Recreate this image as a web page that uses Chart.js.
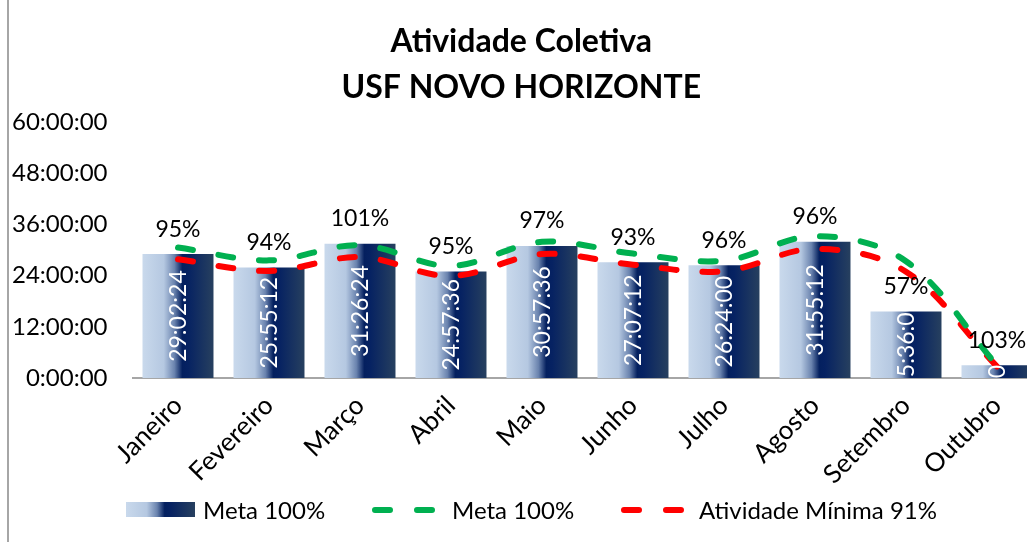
<!DOCTYPE html>
<html>
<head>
<meta charset="utf-8">
<script src="https://cdn.jsdelivr.net/npm/chart.js@4.4.1/dist/chart.umd.min.js"></script>
<style>
  html, body { margin: 0; padding: 0; background: #fff; overflow: hidden; }
  canvas { display: block; }
</style>
</head>
<body>
<canvas id="myChart" width="1070" height="542"></canvas>
<script>
// Chart data
const meses = ['Janeiro', 'Fevereiro', 'Março', 'Abril', 'Maio', 'Junho', 'Julho', 'Agosto', 'Setembro', 'Outubro'];
const horasRealizadas = ['29:02:24', '25:55:12', '31:26:24', '24:57:36', '30:57:36', '27:07:12', '26:24:00', '31:55:12', '15:36:00', '3:00:00'];
const percentuais = ['95%', '94%', '101%', '95%', '97%', '93%', '96%', '96%', '57%', '103%'];
// lines, in hours
const metaHoras = [30.57, 27.57, 31.13, 26.27, 31.92, 29.16, 27.5, 33.25, 27.37, 2.96];
const minimaHoras = [27.82, 25.09, 28.33, 23.91, 29.05, 26.54, 25.03, 30.26, 24.91, 2.69];
const yTickLabels = ['0:00:00', '12:00:00', '24:00:00', '36:00:00', '48:00:00', '60:00:00'];

const FONT = 'Lato, "Open Sans", sans-serif';

function toHours(s) {
    const p = s.split(':').map(Number);
    return p[0] + p[1] / 60 + p[2] / 3600;
}
const barHours = horasRealizadas.map(toHours);

function addStops(g) {
    g.addColorStop(0, '#c9d9ec');
    g.addColorStop(0.3, '#b5c8e1');
    g.addColorStop(0.45, '#6a83ae');
    g.addColorStop(0.56, '#04205f');
    g.addColorStop(0.64, '#062262');
    g.addColorStop(1, '#27405f');
    return g;
}

function barGradient(context) {
    const chart = context.chart;
    if (!chart.chartArea) return '#0a2463';
    const xScale = chart.scales.x;
    const cx = xScale.getPixelForValue(context.dataIndex);
    const half = xScale.width / meses.length * 0.78 / 2;
    return addStops(chart.ctx.createLinearGradient(cx - half, 0, cx + half, 0));
}

// frame line on the left
const framePlugin = {
    id: 'frame',
    beforeDraw(chart) {
        const ctx = chart.ctx;
        ctx.save();
        ctx.fillStyle = '#fff';
        ctx.fillRect(0, 0, chart.width, chart.height);
        ctx.strokeStyle = '#a6a6a6';
        ctx.lineWidth = 2;
        ctx.beginPath();
        ctx.moveTo(8, 0);
        ctx.lineTo(8, chart.height);
        ctx.stroke();
        ctx.restore();
    }
};

// labels inside the bars and percent above
const labelPlugin = {
    id: 'barLabels',
    afterDatasetsDraw(chart) {
        const ctx = chart.ctx;
        const meta = chart.getDatasetMeta(0);
        meta.data.forEach((bar, i) => {
            const w = bar.width;
            const top = bar.y;
            const base = bar.base;
            ctx.save();
            ctx.beginPath();
            ctx.rect(bar.x - w / 2, top, w, base - top);
            ctx.clip();
            ctx.translate(bar.x, (top + base) / 2);
            ctx.rotate(-Math.PI / 2);
            ctx.fillStyle = '#fff';
            ctx.font = '23px ' + FONT;
            ctx.textAlign = 'center';
            ctx.textBaseline = 'middle';
            ctx.fillText(horasRealizadas[i], 0, 1);
            ctx.restore();

            ctx.save();
            ctx.fillStyle = '#000';
            ctx.font = '23px ' + FONT;
            ctx.textAlign = 'center';
            ctx.textBaseline = 'middle';
            ctx.fillText(percentuais[i], bar.x, top - 25);
            ctx.restore();
        });
    }
};

// legend at the bottom
const legendPlugin = {
    id: 'bottomLegend',
    afterDraw(chart) {
        const ctx = chart.ctx;
        const y = 510;
        const x0 = 126;
        ctx.save();
        ctx.font = '24px ' + FONT;
        ctx.textAlign = 'left';
        ctx.textBaseline = 'middle';

        ctx.fillStyle = addStops(ctx.createLinearGradient(x0, 0, x0 + 69, 0));
        ctx.fillRect(x0, y - 8, 69, 15);
        ctx.fillStyle = '#000';
        ctx.fillText('Meta 100%', x0 + 77, y + 1);

        const items = [
            { color: '#00b050', sx: 246, tx: 326, text: 'Meta 100%' },
            { color: '#ff0000', sx: 495, tx: 573, text: 'Atividade Mínima 91%' }
        ];
        items.forEach(it => {
            ctx.strokeStyle = it.color;
            ctx.lineWidth = 6;
            ctx.lineCap = 'round';
            ctx.setLineDash([15, 27]);
            ctx.beginPath();
            ctx.moveTo(x0 + it.sx + 3, y);
            ctx.lineTo(x0 + it.sx + 61, y);
            ctx.stroke();
            ctx.setLineDash([]);
            ctx.fillStyle = '#000';
            ctx.fillText(it.text, x0 + it.tx, y + 1);
        });
        ctx.restore();
    }
};

const ctx = document.getElementById('myChart').getContext('2d');
const myChart = new Chart(ctx, {
    type: 'bar',
    data: {
        labels: meses,
        datasets: [{
            type: 'bar',
            label: 'Meta 100%',
            data: barHours,
            backgroundColor: barGradient,
            categoryPercentage: 1,
            barPercentage: 0.78,
            order: 3
        }, {
            type: 'line',
            label: 'Meta 100%',
            data: metaHoras,
            borderColor: '#00b050',
            borderWidth: 6,
            borderDash: [15, 26],
            borderCapStyle: 'round',
            pointRadius: 0,
            tension: 0.35,
            fill: false,
            order: 1
        }, {
            type: 'line',
            label: 'Atividade Mínima 91%',
            data: minimaHoras,
            borderColor: '#ff0000',
            borderWidth: 6,
            borderDash: [15, 26],
            borderCapStyle: 'round',
            pointRadius: 0,
            tension: 0.35,
            fill: false,
            order: 2
        }]
    },
    options: {
        responsive: false,
        animation: false,
        layout: {
            padding: { left: 0, right: 27.5, top: 0, bottom: 54 }
        },
        plugins: {
            legend: { display: false },
            tooltip: { enabled: false },
            title: {
                display: true,
                text: ['Atividade Coletiva', 'USF NOVO HORIZONTE'],
                color: '#000',
                font: { family: FONT, size: 32, weight: 'bold', lineHeight: 1.4375 },
                padding: { top: 19, bottom: 11 }
            }
        },
        scales: {
            x: {
                grid: { display: false, drawTicks: false },
                border: { display: true, color: '#a6a6a6', width: 2 },
                ticks: {
                    color: '#000',
                    font: { family: FONT, size: 26 },
                    minRotation: 45,
                    maxRotation: 45,
                    autoSkip: false,
                    padding: 12
                },
                afterFit(scale) { scale.height = 110; }
            },
            y: {
                min: 0,
                max: 60,
                grid: { display: false, drawTicks: false },
                border: { display: false },
                ticks: {
                    stepSize: 12,
                    color: '#000',
                    font: { family: FONT, size: 24 },
                    padding: 25,
                    callback: (v, i) => yTickLabels[i]
                },
                afterFit(scale) { scale.width = 132.5; }
            }
        }
    },
    plugins: [framePlugin, labelPlugin, legendPlugin]
});
</script>
</body>
</html>
